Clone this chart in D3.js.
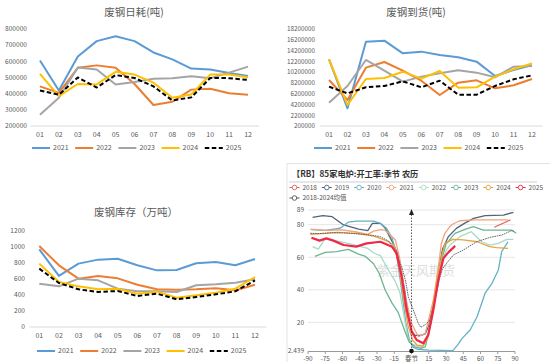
<!DOCTYPE html>
<html><head><meta charset="utf-8">
<script src="https://cdn.jsdelivr.net/npm/d3@7"></script>
<style>body{margin:0;background:#fff}svg{display:block;font-family:"Noto Sans CJK SC","DejaVu Sans",sans-serif}</style>
</head><body><svg id="c" width="550" height="362"></svg>
<script>
// ---------- data ----------
const months = ["01","02","03","04","05","06","07","08","09","10","11","12"];
const years = ["2021","2022","2023","2024","2025"];
const yearColors = ["#5B9BD5","#ED7D31","#A5A5A5","#FFC000","#000000"];

// 废钢日耗(吨)
const daily2021 = [605000,420000,630000,725000,755000,725000,655000,612000,555000,550000,528000,510000];
const daily2022 = [445000,405000,560000,575000,560000,460000,330000,350000,425000,430000,402000,393000];
const daily2023 = [270000,375000,562000,550000,457000,472000,492000,495000,508000,495000,530000,567000];
const daily2024 = [522000,385000,460000,457000,535000,518000,468000,375000,395000,518000,518000,502000];
const daily2025 = [420000,393000,500000,438000,515000,497000,445000,358000,377000,497000,496000,485000];
const dailyTicks = [200000,300000,400000,500000,600000,700000,800000];

// 废钢到货(吨)
const arr2021 = [12570000,3480000,15850000,16040000,13690000,14000000,13380000,12940000,12140000,9480000,10600000,11500000];
const arr2022 = [8740000,5030000,11030000,12080000,10470000,8610000,5960000,8240000,8680000,7190000,7750000,8920000];
const arr2023 = [4530000,7630000,12450000,10470000,8430000,9360000,9970000,10530000,10100000,9230000,11210000,11340000];
const arr2024 = [12570000,4100000,8920000,9110000,10280000,8980000,10410000,7320000,7380000,9360000,10720000,11830000];
const arr2025 = [7500000,6260000,7380000,7630000,8490000,7380000,8610000,6020000,6020000,7630000,8860000,9600000];
const arrTicks = [200000,2200000,4200000,6200000,8200000,10200000,12200000,14200000,16200000,18200000];

// 废钢库存(万吨)
const inv2021 = [971,638,792,842,854,771,708,712,796,812,771,850];
const inv2022 = [1012,771,604,638,608,529,471,467,471,483,458,529];
const inv2023 = [542,508,604,583,479,446,446,438,521,533,554,596];
const inv2024 = [792,563,508,471,479,417,442,367,396,429,479,625];
const inv2025 = [729,550,471,438,450,388,417,346,375,408,446,583];
const invTicks = [0,200,400,600,800,1000,1200];

// 85家电炉开工率 季节(农历, 春节=0)
const seasonNames = ["2018","2019","2020","2021","2022","2023","2024","2025","2018-2024均值"];
const seasonColors = ["#e0625e","#4f6478","#62b2c6","#f2a27f","#a6dcc5","#6db592","#e8a33d","#f0284a","#555555"];
const ea2018 = [[72,78.4],[86,82.9]];
const ea2019 = [[-86,84.5],[-77,85.5],[-69,84.9],[-59,79.8],[-46,77.3],[-38,76.3],[-34,80.8],[-27,80.8],[-23,78],[-16,68.5],[-12,62],[-9,52],[-6,40],[-3,25],[0,15],[3,12],[8,12],[12,13],[15,18],[19,30],[23,50],[27,65],[32,72.6],[39,77.7],[46,80.8],[54,83.9],[64,85.5],[80,85.9],[88.6,87.6]];
const ea2020 = [[-87,77],[-75,76.5],[-62,77.8],[-55,81.5],[-48,82.2],[-33,82.2],[-27,80.8],[-22,78],[-17,72],[-13,62],[-9,42],[-5,20],[-2,10],[1,5],[5,3.5],[15,3],[25,2.8],[36,2.7],[40,6],[44,10.2],[51,15.3],[57,23.5],[64,37.9],[70,44],[75.5,52.2],[78.4,63.4],[84,69.5]];
const ea2021 = [[-88,77.3],[-75,76.5],[-60,76.8],[-48,75.5],[-38,74],[-33,76],[-27,77],[-23,76.5],[-20,74.7],[-14,70.6],[-10,58.3],[-6,38],[0,19.4],[6,11.2],[12,13.3],[19,33.7],[23,52],[26,68.5],[29,74.7],[33,78.5],[36,80.4],[42,82.4],[55,82.9],[70,82.9],[84,82.9]];
const ea2022 = [[-86,66.5],[-81,65],[-75,71.6],[-61,69.5],[-49,67.5],[-38,65.4],[-32,62.3],[-27,61],[-20,52],[-14,45],[-10,38],[-6,22],[-3,10],[0,6.9],[8.7,4.5],[13,8],[17.4,23.4],[22,40],[26,56.2],[30,64],[33.5,67.5],[42,72.6],[52,75.7],[61,69.5],[68,67.5],[75.5,68.5],[82.8,71],[88.6,71]];
const ea2023 = [[-84,60.5],[-75,63],[-65,63.4],[-55,64.8],[-46,61.9],[-40,60.5],[-33,56],[-28,50],[-23,40],[-17,32],[-11.5,26],[-6,15],[-2,8],[3,5],[8,4],[12,5],[17,20],[22,42],[26,58],[30,68],[37.8,74.7],[46.5,77.1],[53.8,78.8],[62.5,76.7],[75,76.7],[87,76.7],[91,74.7]];
const ea2024 = [[-88,74.1],[-75,74.7],[-65,75.3],[-48,74.7],[-33,73],[-27,71.6],[-20,69.5],[-15,67],[-11,55],[-7,35],[-3,18],[1,9],[5,6],[10,5.5],[14,10],[18,28],[22,45],[26,60],[29,68.5],[36,71],[45,70.6],[57,69.5],[68,66.5],[74,65.9],[84,65.5]];
const ea2025 = [[-87,72],[-80,70.2],[-74,71.6],[-68,70.2],[-59,67.5],[-48,66.5],[-39,68.5],[-27,69.5],[-17,66.5],[-13,62.4],[-8.5,48],[-4.2,27.6],[0.2,14.3],[4.5,9.2],[10.3,7.2],[14.6,12.3],[19,27.6],[23.3,46],[27.7,59.3],[32,63],[38,67]];
const eaMean = [[-88,74.7],[-80,74.5],[-70,75],[-60,75],[-50,74.5],[-40,74],[-30,73],[-27,72.6],[-20,70],[-15,65],[-11,58],[-8.5,54.2],[-5,45],[-2.8,35.8],[1.6,27.6],[5.9,19.4],[8,17],[11.7,18.4],[16,21.5],[20.4,33.7],[24.8,48],[27,53],[30.6,56.3],[36.4,61.4],[45,64.4],[56.7,69.5],[68.3,72.2],[78.4,73.6],[87,76.3],[89,76]];
const eaYTicks = [2.439,20,40,60,80,89];
const eaXTicks = [-90,-75,-60,-45,-30,-15,0,15,30,45,60,75,90];

// ---------- drawing ----------
const svg = d3.select("#c");
const txt = "#595959";

function panel(o){
  const g = svg.append("g");
  const x = d3.scaleBand().domain(months).range(o.xr).paddingInner(0).paddingOuter(0);
  const y = d3.scaleLinear().domain(o.yd).range(o.yr);
  g.append("text").attr("x",o.title[1]).attr("y",o.title[2]).attr("text-anchor","middle")
   .attr("font-size",10.5).attr("fill",txt).text(o.title[0]);
  // y labels
  g.selectAll(".yl").data(o.ticks).join("text").attr("x",o.ylx).attr("y",d=>y(d)+2.3)
   .attr("text-anchor","end").attr("font-size",o.yfs).attr("fill",txt).text(d=>d);
  // axis line
  g.append("line").attr("x1",o.xr[0]).attr("x2",o.xr[1]+1.5).attr("y1",o.yr[0]).attr("y2",o.yr[0])
   .attr("stroke","#d9d9d9").attr("stroke-width",1);
  g.selectAll(".xl").data(months).join("text").attr("x",d=>x(d)+x.bandwidth()/2).attr("y",o.yr[0]+10.5)
   .attr("text-anchor","middle").attr("font-size",7).attr("fill",txt).text(d=>d);
  const line = d3.line().x((d,i)=>x(months[i])+x.bandwidth()/2).y(d=>y(d));
  o.series.forEach((s,i)=>{
    g.append("path").attr("d",line(s)).attr("fill","none").attr("stroke",yearColors[i])
     .attr("stroke-width",2).attr("stroke-linejoin","round")
     .attr("stroke-dasharray", i===4 ? "4.5,2.5" : null);
  });
  // legend
  years.forEach((yv,i)=>{
    const lx = o.lx + i*43.2;
    g.append("line").attr("x1",lx).attr("x2",lx+18).attr("y1",o.ly).attr("y2",o.ly)
     .attr("stroke",yearColors[i]).attr("stroke-width",2).attr("stroke-dasharray", i===4 ? "4.5,2.5" : null);
    g.append("text").attr("x",lx+21).attr("y",o.ly+2.4).attr("font-size",7).attr("fill",txt).text(yv);
  });
}

panel({title:["废钢日耗(吨)",134,16], xr:[30.5,257.5], yd:[200000,800000], yr:[126,29], ticks:dailyTicks,
  ylx:27, yfs:6.6, series:[daily2021,daily2022,daily2023,daily2024,daily2025], lx:32, ly:148});
panel({title:["废钢到货(吨)",416,16], xr:[319.8,541.2], yd:[200000,18200000], yr:[126,29], ticks:arrTicks,
  ylx:315, yfs:6.3, series:[arr2021,arr2022,arr2023,arr2024,arr2025], lx:314, ly:148});
panel({title:["废钢库存（万吨）",136,216], xr:[29.5,264.8], yd:[0,1200], yr:[327,231], ticks:invTicks,
  ylx:25, yfs:6.6, series:[inv2021,inv2022,inv2023,inv2024,inv2025], lx:37, ly:351});

// ---------- seasonal panel ----------
(function(){
  const g = svg.append("g");
  g.append("line").attr("x1",287).attr("x2",550).attr("y1",163.5).attr("y2",163.5).attr("stroke","#e3e3e3");
  g.append("line").attr("x1",287).attr("x2",287).attr("y1",163.5).attr("y2",362).attr("stroke","#e3e3e3");
  g.append("text").attr("x",292).attr("y",177).attr("font-size",8.2).attr("font-weight","bold")
   .attr("fill","#333").text("【RB】85家电炉:开工率:季节 农历");
  g.append("line").attr("x1",289).attr("x2",537).attr("y1",182).attr("y2",182).attr("stroke","#cfcfcf");
  // legend
  seasonNames.forEach((n,i)=>{
    const lx = i<8 ? 289.5 + i*32.3 : 289.5;
    const ly = i<8 ? 187.5 : 198;
    g.append("line").attr("x1",lx).attr("x2",lx+10).attr("y1",ly).attr("y2",ly).attr("stroke",seasonColors[i]).attr("stroke-width",1);
    g.append("circle").attr("cx",lx+5).attr("cy",ly).attr("r",2.3).attr("fill","#fff").attr("stroke",seasonColors[i]).attr("stroke-width",0.9);
    g.append("text").attr("x",lx+13).attr("y",ly+2.3).attr("font-size",6.5).attr("fill","#555").text(n);
  });
  const x = d3.scaleLinear().domain([-90,90]).range([308,515]);
  const y = d3.scaleLinear().domain([2.439,89]).range([351,210]);
  // grid
  g.selectAll(".gr").data(eaYTicks.slice(1)).join("line").attr("x1",308).attr("x2",515)
   .attr("y1",d=>y(d)).attr("y2",d=>y(d)).attr("stroke","#e6e6e6").attr("stroke-width",1);
  g.selectAll(".yl").data(eaYTicks).join("text").attr("x",304).attr("y",d=>y(d)+2.3)
   .attr("text-anchor","end").attr("font-size",6.5).attr("fill","#555").text(d=>d);
  // x axis
  g.append("line").attr("x1",308).attr("x2",515).attr("y1",351.5).attr("y2",351.5).attr("stroke","#999");
  g.selectAll(".xt").data(eaXTicks).join("line").attr("x1",d=>x(d)).attr("x2",d=>x(d))
   .attr("y1",351.5).attr("y2",354).attr("stroke","#999");
  g.selectAll(".xl").data(eaXTicks).join("text").attr("x",d=>x(d)).attr("y",360.5)
   .attr("text-anchor","middle").attr("font-size",6.5).attr("fill","#555").text(d=>d===0?"春节":d);
  // watermark
  g.append("text").attr("x",416).attr("y",275).attr("text-anchor","middle").attr("font-size",13)
   .attr("fill","#c8c8c8").attr("opacity",0.6).text("紫金天风期货");
  const line = d3.line().x(d=>x(d[0])).y(d=>y(d[1]));
  const all = [ea2018,ea2019,ea2020,ea2021,ea2022,ea2023,ea2024,eaMean,ea2025];
  const idx = [0,1,2,3,4,5,6,8,7];
  all.forEach((s,k)=>{
    const i = idx[k];
    g.append("path").attr("d",line(s)).attr("fill","none").attr("stroke",seasonColors[i])
     .attr("stroke-width", i===7 ? 2.2 : (i===8 ? 0.9 : 1.3)).attr("stroke-linejoin","round")
     .attr("stroke-dasharray", i===8 ? "1.6,0.8" : null);
  });
  // spring festival marker
  g.append("line").attr("x1",x(0)).attr("x2",x(0)).attr("y1",y(2.439)).attr("y2",y(89)+4)
   .attr("stroke","#333").attr("stroke-width",0.8).attr("stroke-dasharray","1.5,1.5");
  g.append("path").attr("d",`M${x(0)-2.5},${y(89)+5}L${x(0)},${y(89)-1}L${x(0)+2.5},${y(89)+5}Z`).attr("fill","#222");
  g.append("circle").attr("cx",x(0)).attr("cy",y(2.439)).attr("r",2.3).attr("fill","#111");
})();
</script></body></html>
